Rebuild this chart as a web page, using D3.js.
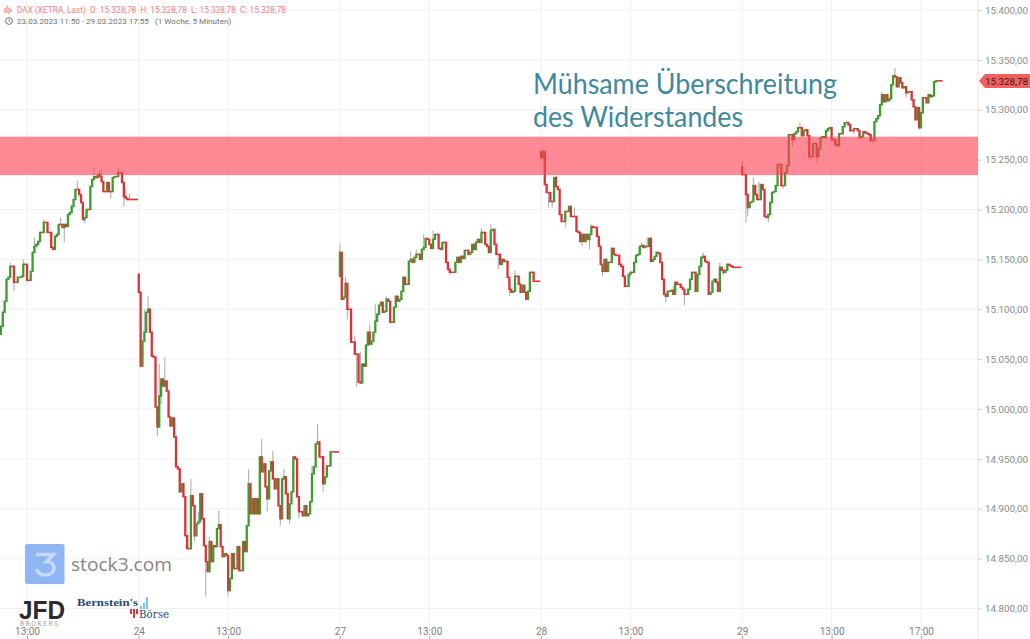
<!DOCTYPE html>
<html><head><meta charset="utf-8">
<style>html,body{margin:0;padding:0;background:#fff}svg{display:block}text{font-family:Roboto,"Liberation Sans",sans-serif}</style>
<script src="https://cdn.jsdelivr.net/npm/d3@7/dist/d3.min.js"></script>
</head><body><svg id="c" width="1030" height="639"></svg>
<script>
const priceTicks=[15400,15350,15300,15250,15200,15150,15100,15050,15000,14950,14900,14850,14800];
const timeTickBars=[14,74,122,182,230,290,338,398,446,494];
const timeTickLabels=["13:00","24","13:00","27","13:00","28","13:00","29","13:00","17:00"];
const dayStarts=[0,74,182,290,398];
const dayOpens=[15075,15135,15133,15258,15243];
const resistance=[15234.5,15273];
const lastPrice=15328.78;
const day23=[15083,15097,15108,15130,15132,15143,15143,15127,15127,15132,15132,15133,15145,15145,15129,15129,15138,15157,15163,15165,15168,15177,15177,15187,15187,15177,15177,15162,15160,15173,15175,15185,15185,15182,15185,15183,15195,15197,15203,15210,15220,15220,15215,15207,15190,15192,15200,15200,15223,15230,15233,15232,15235,15233,15228,15218,15218,15227,15218,15218,15232,15233,15233,15237,15237,15227,15213,15211,15210,15210,15210,15210,15210,15210];
const day24=[15117,15043,15068,15077,15097,15100,15077,15053,15052,15002,14982,15013,15030,15023,15028,15018,14992,14983,14991,14972,14942,14940,14917,14925,14912,14873,14860,14860,14913,14903,14873,14885,14887,14915,14890,14863,14847,14837,14867,14847,14863,14862,14880,14884,14862,14852,14855,14853,14818,14830,14855,14840,14840,14862,14838,14838,14867,14857,14883,14925,14895,14910,14895,14910,14895,14952,14937,14945,14922,14910,14938,14947,14930,14920,14930,14903,14890,14930,14932,14915,14890,14905,14917,14952,14950,14912,14897,14897,14893,14903,14893,14895,14907,14935,14942,14965,14967,14952,14952,14925,14932,14943,14943,14957,14957,14957,14957,14957];
const day27=[15157,15110,15112,15126,15100,15100,15067,15067,15055,15055,15027,15026,15045,15043,15064,15077,15065,15068,15077,15088,15095,15104,15107,15097,15098,15110,15108,15087,15087,15102,15113,15108,15110,15118,15132,15125,15125,15148,15150,15147,15152,15155,15155,15150,15160,15162,15171,15170,15165,15161,15170,15175,15175,15161,15160,15167,15167,15147,15140,15137,15137,15137,15147,15152,15147,15153,15151,15159,15159,15155,15157,15165,15160,15167,15170,15167,15177,15177,15165,15163,15157,15179,15180,15165,15155,15155,15145,15150,15148,15148,15132,15120,15117,15118,15133,15133,15125,15117,15124,15117,15110,15118,15137,15137,15128,15128,15128,15128];
const day28=[15252,15258,15225,15217,15217,15208,15208,15232,15223,15220,15195,15188,15188,15198,15198,15203,15193,15193,15193,15178,15177,15168,15175,15168,15175,15170,15175,15183,15182,15182,15173,15163,15145,15138,15150,15138,15147,15147,15161,15155,15154,15154,15145,15143,15133,15123,15123,15135,15137,15137,15147,15154,15155,15163,15164,15162,15163,15163,15171,15148,15150,15153,15157,15156,15147,15130,15115,15113,15118,15118,15119,15115,15127,15125,15125,15122,15120,15115,15115,15120,15130,15137,15137,15118,15135,15143,15152,15153,15148,15147,15115,15117,15128,15130,15127,15118,15142,15139,15137,15139,15145,15144,15143,15142,15142,15142,15142,15142];
const day29=[15235,15235,15215,15202,15207,15208,15224,15215,15210,15210,15225,15220,15193,15192,15195,15207,15217,15218,15224,15245,15245,15224,15224,15237,15244,15275,15275,15270,15276,15278,15282,15282,15274,15279,15280,15274,15253,15253,15266,15266,15253,15261,15272,15273,15272,15279,15281,15282,15270,15270,15265,15264,15276,15276,15283,15287,15287,15285,15279,15279,15281,15281,15279,15272,15273,15278,15277,15276,15275,15269,15269,15288,15291,15294,15305,15315,15308,15315,15309,15311,15325,15334,15333,15323,15332,15327,15322,15323,15317,15318,15318,15310,15303,15290,15302,15282,15297,15312,15312,15307,15315,15313,15314,15328,15329,15329,15329,15329];
// [day, bar, wick end price]
const wicks=[[0,5,15147],[0,7,15118],[0,12,15150],[0,18,15172],[0,23,15190],[0,32,15192],[0,34,15167],[0,38,15205],[0,41,15229],[0,45,15186],[0,50,15243],[0,53,15240],[0,54,15240],[0,59,15211],[0,63,15242],[0,66,15203],[0,67,15220],[0,69,15216],
[1,5,15113],[1,3,15100],[1,11,15045],[1,14,15052],[1,12,15005],[1,10,14973],[1,22,14935],[1,28,14930],[1,30,14867],[1,32,14897],[1,36,14812],[1,38,14872],[1,43,14898],[1,48,14813],[1,59,14940],[1,66,14970],[1,72,14958],[1,69,14897],[1,78,14940],[1,76,14883],[1,81,14885],[1,86,14890],[1,93,14943],[1,96,14985],[1,99,14917],
[2,0,15166],[2,3,15132],[2,4,15090],[2,8,15073],[2,9,15022],[2,12,15035],[2,11,15057],[2,16,15085],[2,19,15105],[2,25,15113],[2,38,15158],[2,41,15160],[2,45,15175],[2,50,15179],[2,59,15135],[2,76,15181],[2,81,15185],[2,85,15140],[2,91,15113],[2,94,15139],
[3,1,15261],[3,4,15202],[3,6,15202],[3,8,15234],[3,13,15182],[3,18,15202],[3,22,15163],[3,26,15160],[3,27,15185],[3,33,15133],[3,38,15162],[3,48,15132],[3,54,15167],[3,57,15172],[3,67,15107],[3,71,15123],[3,77,15104],[3,87,15157],[3,96,15147],[3,100,15146],[3,98,15134],
[4,0,15249],[4,2,15187],[4,3,15193],[4,6,15232],[4,9,15228],[4,14,15187],[4,20,15247],[4,22,15221],[4,27,15263],[4,31,15287],[4,40,15247],[4,47,15283],[4,51,15263],[4,56,15289],[4,60,15275],[4,75,15318],[4,82,15342],[4,88,15312],[4,91,15311],[4,95,15280],[4,100,15316]];
const days=[day23,day24,day27,day28,day29];

const svg=d3.select("#c");
const x=d3.scaleLinear().domain([14,494]).range([27,921]);
const y=d3.scaleLinear().domain([14800,15400]).range([608.5,10]);
const plotRight=978;
const de=d3.formatLocale({decimal:",",thousands:".",grouping:[3],currency:["","€"]});
const fmt=de.format(",.2f");
const grid="#f1f1f1";

// grid
const g=svg.append("g");
g.selectAll("line.h").data(priceTicks).join("line").attr("class","h").attr("x1",0).attr("x2",plotRight).attr("y1",d=>y(d)).attr("y2",d=>y(d)).attr("stroke",grid);
g.selectAll("line.v").data(timeTickBars).join("line").attr("class","v").attr("x1",d=>x(d)).attr("x2",d=>x(d)).attr("y1",0).attr("y2",639).attr("stroke",grid);
g.append("line").attr("x1",plotRight).attr("x2",plotRight).attr("y1",0).attr("y2",639).attr("stroke","#e8e8e8");

// logos under the candles
const logo=svg.append("g");
logo.append("rect").attr("x",25).attr("y",544).attr("width",39.5).attr("height",40).attr("rx",2.5).attr("fill","#8fb5f3");
logo.append("path").attr("d","M36 554.5H53.5L46.5 561.5C52 561.5 54 565 54 568C54 572.5 50 575 45.5 575C41 575 37.5 572.5 36.5 569").attr("fill","none").attr("stroke","#c6d9f8").attr("stroke-width",3.4);
logo.append("text").attr("x",71).attr("y",571).style("font-family","Open Sans").attr("font-size",18.3).attr("font-weight",500).attr("fill","#858585").attr("textLength",101).attr("lengthAdjust","spacingAndGlyphs").text("stock3.com");
logo.append("text").attr("x",19).attr("y",618.5).style("font-family","Liberation Sans").attr("font-size",26).attr("font-weight",700).attr("textLength",46).attr("lengthAdjust","spacingAndGlyphs").attr("fill","#2b2b2b").text("JFD");
logo.append("text").attr("x",20).attr("y",626).attr("font-size",6.6).attr("letter-spacing",1.6).attr("fill","#a0a0a0").text("BROKERS");
logo.append("text").attr("x",77).attr("y",606).style("font-family","Liberation Serif").attr("font-size",10.5).attr("font-weight",700).attr("fill","#1f4a75").attr("textLength",61).attr("lengthAdjust","spacingAndGlyphs").text("Bernstein's");
logo.append("text").attr("x",139).attr("y",617.5).style("font-family","DejaVu Serif").attr("font-size",10.5).attr("fill","#1f4a75").attr("textLength",30).attr("lengthAdjust","spacingAndGlyphs").text("Börse");
[[140,606,2,3],[143,603,2,6],[146,597,2,12]].forEach(r=>logo.append("rect").attr("x",r[0]).attr("y",r[1]).attr("width",r[2]).attr("height",r[3]).attr("fill","#7fc4ea"));
[[130,609,2,5],[133,609,2,9],[136,609,2,5]].forEach(r=>logo.append("rect").attr("x",r[0]).attr("y",r[1]).attr("width",r[2]).attr("height",r[3]).attr("fill","#e0353d"));

// candles
const bars=[];
days.forEach((closes,d)=>closes.forEach((c,i)=>{
  const open=i===0?dayOpens[d]:closes[i-1];
  bars.push({bar:dayStarts[d]+i,open,close:c});
}));
const wickData=wicks.map(w=>{const b=days[w[0]][w[1]];return {bar:dayStarts[w[0]]+w[1],from:b,to:w[2]};});
const green="#3f9a32",red="#dc3236";
const cg=svg.append("g").style("filter","blur(0.3px)");
cg.append("g").selectAll("line").data(wickData).join("line")
 .attr("x1",d=>x(d.bar)).attr("x2",d=>x(d.bar)).attr("y1",d=>y(d.from)).attr("y2",d=>y(d.to))
 .attr("stroke","#a8a8a8").attr("stroke-width",1);
cg.append("g").selectAll("rect").data(bars).join("rect")
 .attr("x",d=>x(d.bar)-1.15).attr("width",2.3)
 .attr("y",d=>y(Math.max(d.open,d.close))-0.75)
 .attr("height",d=>Math.abs(y(d.open)-y(d.close))+1.5)
 .attr("fill",d=>d.close>d.open?green:red);

// resistance zone
svg.append("rect").attr("x",0).attr("width",plotRight).attr("y",y(resistance[1])).attr("height",y(resistance[0])-y(resistance[1])).attr("fill","rgba(255,64,84,0.62)");

// axes
const ya=d3.axisRight(y).tickValues(priceTicks).tickFormat(fmt).tickSize(4).tickPadding(3);
const yg=svg.append("g").attr("transform",`translate(${plotRight},0)`).call(ya);
yg.select(".domain").remove();
yg.selectAll("line").attr("stroke","#cfcfcf");
yg.selectAll("text").attr("font-size",9.8).attr("fill","#8a8a8a");
const xa=d3.axisBottom(x).tickValues(timeTickBars).tickFormat((d,i)=>timeTickLabels[i]).tickSize(3);
const xg=svg.append("g").attr("transform","translate(0,636)").call(xa);
xg.select(".domain").remove();
xg.selectAll("line").attr("stroke","#aaa");
xg.selectAll("text").attr("font-size",10).attr("fill","#808080").attr("dy","0").attr("y",-1);

// last price tag
const ty=y(lastPrice);
svg.append("path").attr("d",`M979 ${ty}L985 ${ty-7}H1030V${ty+7}H985Z`).attr("fill","#f1605e");
svg.append("text").attr("x",985).attr("y",ty+3.5).attr("font-size",9.8).attr("fill","#3a1a1a").text(fmt(lastPrice));

// header
svg.append("text").attr("x",17).attr("y",12.5).attr("font-size",8.3).attr("fill","#f77f7f").attr("xml:space","preserve").text("DAX (XETRA, Last)  O: 15.328,78  H: 15.328,78  L: 15.328,78  C: 15.328,78");
svg.append("text").attr("x",17).attr("y",24).attr("font-size",8.1).attr("fill","#6f6f6f").attr("xml:space","preserve").text("23.03.2023 11:50 - 29.03.2023 17:55   (1 Woche, 5 Minuten)");
svg.append("path").attr("d","M5 13V8M7 13V5.5M9 14V7.5M11 12V9").attr("stroke","#f77f7f").attr("stroke-width",1.1).attr("fill","none");
svg.append("circle").attr("cx",9).attr("cy",21).attr("r",3.4).attr("fill","none").attr("stroke","#666").attr("stroke-width",0.9);
svg.append("path").attr("d","M9 19V21.2L10.5 22").attr("fill","none").attr("stroke","#666").attr("stroke-width",0.8);

// annotation
const ann=svg.append("g").attr("font-size",28).attr("fill","#40899d");
ann.append("text").attr("x",533).attr("y",94).style("font-family","Lato").attr("textLength",304).attr("lengthAdjust","spacingAndGlyphs").text("Mühsame Überschreitung");
ann.append("text").attr("x",533).attr("y",127).style("font-family","Lato").attr("textLength",210).attr("lengthAdjust","spacingAndGlyphs").text("des Widerstandes");
</script></body></html>
